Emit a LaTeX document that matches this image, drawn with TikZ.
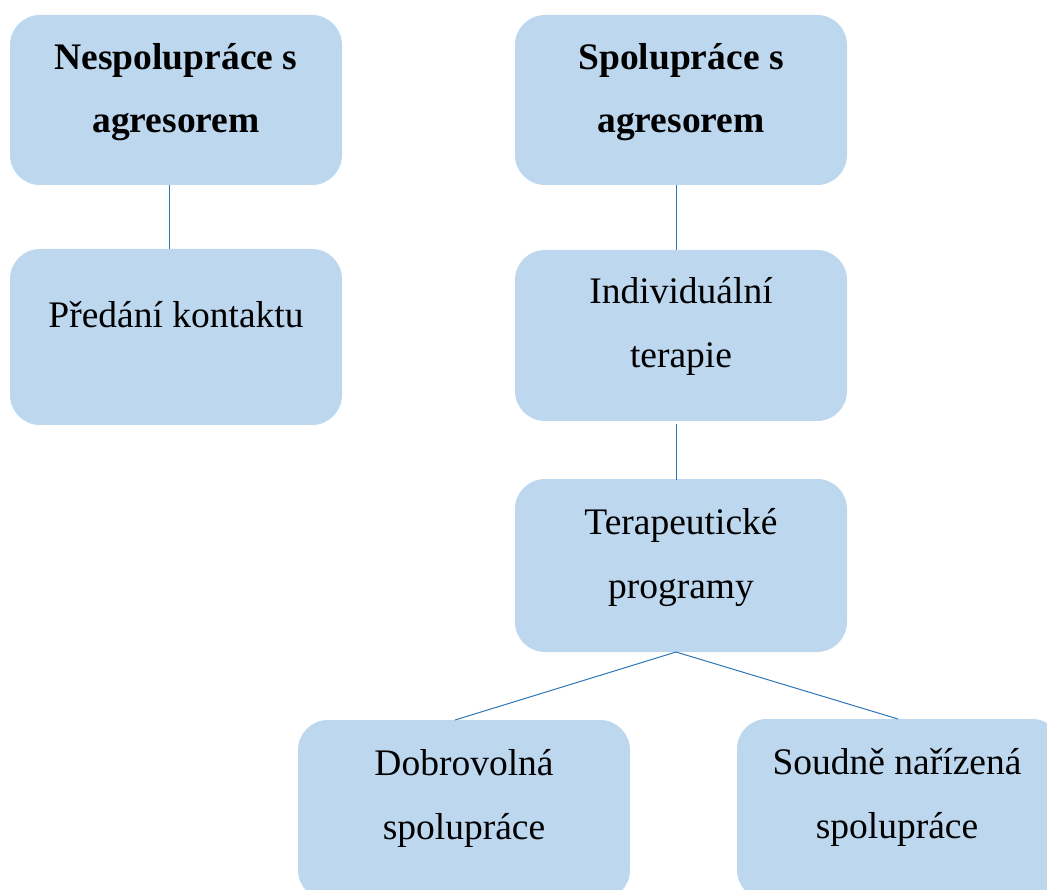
\documentclass[tikz,border=0pt]{standalone}
\usepackage{fontspec}
\setmainfont{Liberation Serif}
\definecolor{boxfill}{HTML}{BDD7EE}
\definecolor{linkblue}{HTML}{2E75B6}
\begin{document}
\begin{tikzpicture}[x=1pt,y=-1pt,
  box/.style={fill=boxfill,draw=none,rounded corners=30pt},
  txt/.style={anchor=base,align=center,inner sep=0pt,font=\fontsize{37.5}{64}\selectfont},
  link/.style={draw=linkblue,line width=1pt}]
\useasboundingbox (0,0) rectangle (1047,890);
\begin{scope}
\clip (0,0) rectangle (1047,890);
% boxes
\path[box] (10,15) rectangle (342,185) node[pos=0.5,inner sep=0pt] (A) {};
\path[box] (10,249) rectangle (342,425) node[pos=0.5,inner sep=0pt] (B) {};
\path[box] (515,15) rectangle (847,185) node[pos=0.5,inner sep=0pt] (C) {};
\path[box] (515,250) rectangle (847,421) node[pos=0.5,inner sep=0pt] (D) {};
\path[box] (515,479) rectangle (847,652) node[pos=0.5,inner sep=0pt] (E) {};
\path[box] (298,720) rectangle (630,900) node[pos=0.5,inner sep=0pt] (F) {};
\path[box] (737,719) rectangle (1062,900) node[pos=0.5,inner sep=0pt] (G) {};
\end{scope}
% anchor points on box edges
\coordinate (Abot) at (169,185);
\coordinate (Btop) at (169,249);
\coordinate (Cbot) at (676,185);
\coordinate (Dtop) at (676,250);
\coordinate (Dbot) at (676,424);
\coordinate (Etop) at (676,480);
\coordinate (Ebot) at (676,652);
\coordinate (Ftop) at (455,720);
\coordinate (Gtop) at (898,719);
% connectors
\draw[link] (Abot) -- (Btop);
\draw[link] (Cbot) -- (Dtop);
\draw[link] (Dbot) -- (Etop);
\draw[link] (Ebot) -- (Ftop);
\draw[link] (Ebot) -- (Gtop);
% labels (anchored at the baseline of the last line)
\node[txt,font=\fontsize{37.5}{63}\selectfont\bfseries] (tA) at (176,133) {Nespolupráce s\\agresorem};
\node[txt] (tB) at (176,328) {Předání kontaktu};
\node[txt,font=\fontsize{37.5}{63}\selectfont\bfseries] (tC) at (681,133) {Spolupráce s\\agresorem};
\node[txt] (tD) at (681,368) {Individuální\\terapie};
\node[txt] (tE) at (681,598) {Terapeutické\\programy};
\node[txt] (tF) at (464,839) {Dobrovolná\\spolupráce};
\node[txt] (tG) at (897,838) {Soudně nařízená\\spolupráce};
\end{tikzpicture}
\end{document}
